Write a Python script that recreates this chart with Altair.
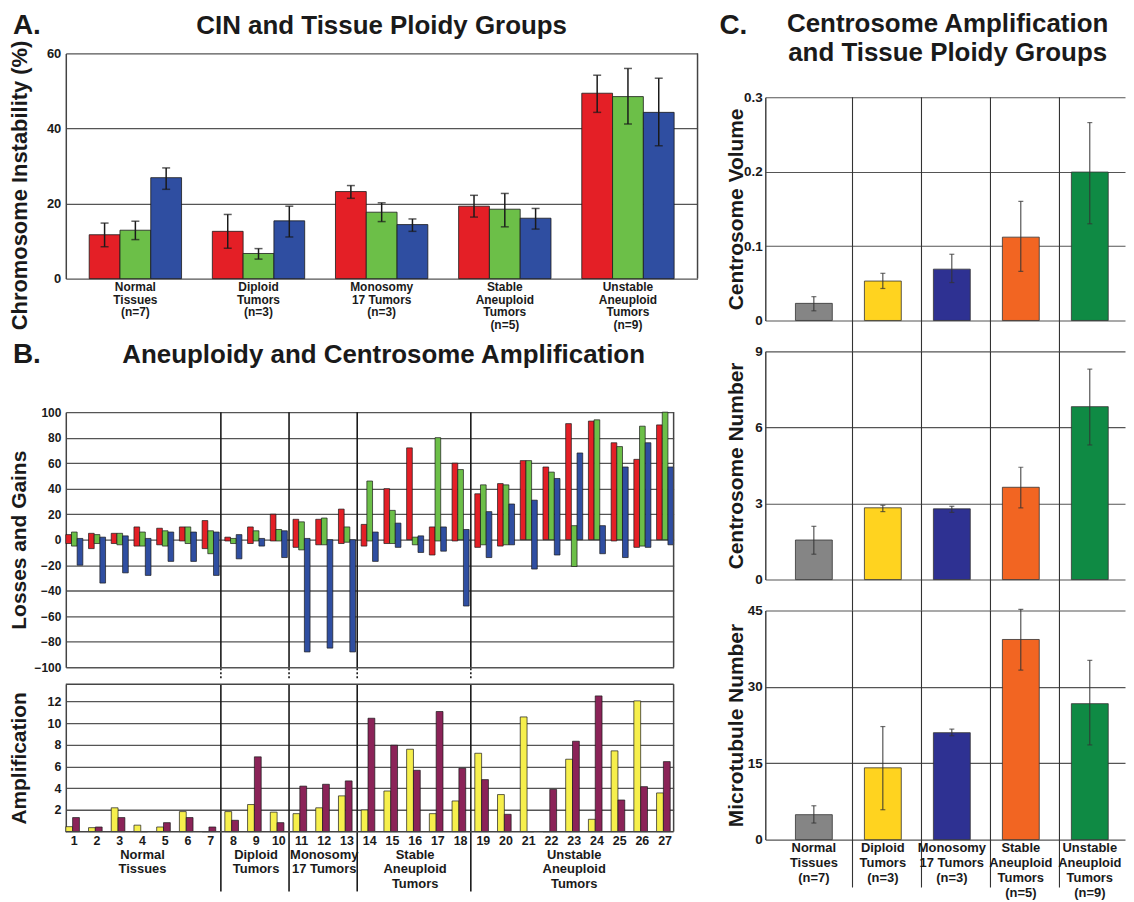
import altair as alt
import pandas as pd

FONT = "Liberation Sans"
INK = "#1a1a1a"
GRID = "#555555"
FRAME = "#444444"

# ---------------- shared categories ----------------
groups = ["Normal\nTissues\n(n=7)", "Diploid\nTumors\n(n=3)", "Monosomy\n17 Tumors\n(n=3)",
          "Stable\nAneuploid\nTumors\n(n=5)", "Unstable\nAneuploid\nTumors\n(n=9)"]
group_short = ["Normal\nTissues", "Diploid\nTumors", "Monosomy\n17 Tumors",
               "Stable\nAneuploid\nTumors", "Unstable\nAneuploid\nTumors"]
group_sizes = [7, 3, 3, 5, 9]

# ---------------- Panel A: CIN ----------------
cin_series = ["Series 1", "Series 2", "Series 3"]
cin_colors = ["#e41f26", "#6cbf48", "#2f4ea1"]
cin_1 = [11.7, 12.6, 23.2, 19.3, 49.4]
cin_1_lo = [8.5, 8.1, 21.4, 16.4, 44.3]
cin_1_hi = [14.8, 17.1, 24.8, 22.2, 54.2]
cin_2 = [12.9, 6.7, 17.7, 18.5, 48.5]
cin_2_lo = [10.4, 5.2, 15.2, 13.8, 41.2]
cin_2_hi = [15.3, 8.0, 20.2, 22.7, 56.0]
cin_3 = [26.9, 15.4, 14.4, 16.1, 44.3]
cin_3_lo = [23.8, 11.1, 12.6, 13.2, 35.4]
cin_3_hi = [29.5, 19.3, 15.9, 18.7, 53.4]

# ---------------- Panel B: losses / gains ----------------
samples = list(range(1, 28))
gain_1 = [4, 5, 5, 10, 9, 10, 15, 2, 10, 20, 16, 16, 24, 12, 40, 72, 10, 60, 36, 44, 62, 57, 91, 93, 76, 63, 90]
loss_1 = [-3, -7, -3, -5, -4, -1, -7, -1, -3, -1, -6, -4, -3, -5, -3, 0, -12, -1, -6, -5, 0, 0, 0, 0, -1, -6, 0]
gain_2 = [6, 4, 5, 6, 7, 10, 7, 1, 7, 8, 14, 17, 10, 46, 23, 2, 80, 55, 43, 43, 62, 53, 11, 94, 73, 89, 100]
loss_2 = [-5, -3, -4, -5, -5, -3, -11, -3, -1, -1, -8, -4, -2, -1, -3, -4, -1, 0, -4, -4, 0, 0, -21, 0, 0, -5, 0]
gain_3 = [1, 2, 3, 1, 6, 6, 6, 4, 1, 7, 1, 0, 0, 6, 13, 3, 10, 8, 22, 28, 31, 48, 68, 11, 57, 76, 57]
loss_3 = [-20, -34, -26, -28, -17, -17, -28, -15, -5, -14, -88, -85, -88, -17, -6, -10, -9, -52, -14, -4, -23, -12, 0, -11, -14, -6, -4]

# ---------------- Panel B: amplification ----------------
amp_series = ["Amplification 1", "Amplification 2"]
amp_colors = ["#f6ef4c", "#8b2358"]
amp_1 = [0.46, 0.37, 2.2, 0.6, 0.43, 1.85, 0, 1.85, 2.5, 1.8, 1.66, 2.2, 3.3, 2.0, 3.75, 7.6, 1.66,
         2.83, 7.23, 3.42, 10.58, 0, 6.68, 1.14, 7.45, 12.06, 3.57]
amp_2 = [1.3, 0.43, 1.3, 0, 0.83, 1.3, 0.43, 1.05, 6.9, 0.83, 4.2, 4.37, 4.68, 10.46, 7.97, 5.66,
         11.08, 5.85, 4.8, 1.6, 0, 3.9, 8.34, 12.52, 2.92, 4.15, 6.46]

# ---------------- Panel C ----------------
c_colors = ["#858585", "#ffd31f", "#2e3192", "#f26522", "#0f8a44"]
vol = [0.023, 0.053, 0.069, 0.112, 0.1995]
vol_lo = [0.013, 0.043, 0.051, 0.066, 0.130]
vol_hi = [0.032, 0.0634, 0.089, 0.160, 0.266]
num = [1.56, 2.83, 2.79, 3.64, 6.82]
num_lo = [1.0, 2.68, 2.65, 2.83, 5.31]
num_hi = [2.1, 2.93, 2.89, 4.43, 8.3]
mt = [4.9, 14.1, 21.0, 39.3, 26.7]
mt_lo = [3.26, 5.87, 20.4, 33.3, 18.6]
mt_hi = [6.65, 22.2, 21.7, 45.2, 35.2]

title_A = "CIN and Tissue Ploidy Groups"
title_B = "Aneuploidy and Centrosome Amplification"
title_C = "Centrosome Amplification\nand Tissue Ploidy Groups"

ONE = pd.DataFrame({"k": [0]})
TITLE_SIZE = 26


def text_at(txt, dx, dy, size=TITLE_SIZE, baseline="middle", line_height=30):
    return alt.Chart(pd.DataFrame({"t": [txt]})).mark_text(
        fontSize=size, fontWeight="bold", font=FONT, color=INK, align="center", baseline=baseline,
        lineBreak="\n", lineHeight=line_height
    ).encode(text="t:N", x=alt.value(dx), y=alt.value(dy))


def letter(txt, dx, dy):
    return text_at(txt, dx, dy, size=28)


def vline(xpx, y0, y1, color=FRAME, width=1.5):
    return alt.Chart(ONE).mark_rule(color=color, strokeWidth=width).encode(
        x=alt.value(xpx), y=alt.value(y0), y2=alt.value(y1))


def hline(ypx, x0, x1, color=FRAME, width=1.5):
    return alt.Chart(ONE).mark_rule(color=color, strokeWidth=width).encode(
        x=alt.value(x0), x2=alt.value(x1), y=alt.value(ypx))


def yaxis(values, title, fmt=None, size=12, tx=-46, ty=None, tsize=21, grid_w=1.3, pad=5):
    kw = dict(values=values, title=title, grid=True, gridColor=GRID, gridWidth=grid_w, ticks=False,
              domain=True, domainColor=FRAME, domainWidth=1.5,
              labelFontSize=size, labelFontWeight="bold", labelColor=INK, labelPadding=pad,
              titleFontSize=tsize, titleFontWeight="bold", titleColor=INK, titleX=tx, titleBaseline="middle")
    if ty is not None:
        kw["titleY"] = ty
    if fmt:
        kw["format"] = fmt
    return alt.Axis(**kw)


# ================= Panel A chart =================
rows = []
for si, (s, v, lo, hi) in enumerate(zip(cin_series, [cin_1, cin_2, cin_3], [cin_1_lo, cin_2_lo, cin_3_lo],
                                        [cin_1_hi, cin_2_hi, cin_3_hi])):
    for gi, (g, a, b, c) in enumerate(zip(groups, v, lo, hi)):
        rows.append({"gi": gi, "group": g, "si": si, "series": s, "value": a, "lo": b, "hi": c})
dfA = pd.DataFrame(rows)

A_W, A_H = 634, 226
xsA = alt.Scale(domain=[-0.565, 4.565], nice=False, zero=False)
yA = alt.Y("value:Q", scale=alt.Scale(domain=[0, 60]),
           axis=yaxis([0, 20, 40, 60], "Chromosome Instability (%)", size=13, ty=132, tsize=22))
baseA = alt.Chart(dfA).transform_calculate(
    x0="datum.gi - 0.375 + datum.si * 0.25", x1="datum.gi - 0.125 + datum.si * 0.25",
    xc="datum.gi - 0.25 + datum.si * 0.25")
barsA = baseA.mark_bar(stroke=INK, strokeWidth=0.8).encode(
    x=alt.X("x0:Q", scale=xsA, axis=None), x2="x1:Q", y=yA, y2=alt.datum(0),
    color=alt.Color("series:N", scale=alt.Scale(domain=cin_series, range=cin_colors), legend=None))
errA = baseA.mark_rule(color=INK, strokeWidth=1.5).encode(
    x=alt.X("xc:Q", scale=xsA, axis=None), y="lo:Q", y2="hi:Q")
capLoA = baseA.mark_tick(color=INK, thickness=1.5, size=8, orient="horizontal").encode(
    x=alt.X("xc:Q", scale=xsA, axis=None), y="lo:Q")
capHiA = baseA.mark_tick(color=INK, thickness=1.5, size=8, orient="horizontal").encode(
    x=alt.X("xc:Q", scale=xsA, axis=None), y="hi:Q")
labA = alt.Chart(pd.DataFrame({"gi": list(range(len(groups))), "label": groups})).mark_text(
    lineBreak="\n", baseline="top", align="center", fontSize=12, fontWeight="bold", font=FONT,
    color=INK, lineHeight=13).encode(x=alt.X("gi:Q", scale=xsA, axis=None), y=alt.value(A_H + 3),
                                     text="label:N")
chartA = alt.layer(barsA, errA, capLoA, capHiA, labA, vline(A_W, 0, A_H),
                   text_at(title_A, A_W / 2, -28), letter("A.", -39, -28)).properties(width=A_W, height=A_H)

# ================= Panel B top =================
rowsB = []
for si, (s, gains, losses) in enumerate(zip(cin_series, [gain_1, gain_2, gain_3], [loss_1, loss_2, loss_3])):
    for smp, g, l in zip(samples, gains, losses):
        rowsB.append({"sample": smp, "si": si, "series": s, "gain": g, "loss": l})
dfB = pd.DataFrame(rowsB)

sep_samples = []
acc = 0
for n in group_sizes[:-1]:
    acc += n
    sep_samples.append(acc)
centers = []
start = 1
for n in group_sizes:
    centers.append(start + (n - 1) // 2)
    start += n

B_W, BT_H, BB_H, B_GAP = 610, 256, 148, 17
xsB = alt.Scale(domain=[0.625, 27.375], nice=False, zero=False)
barsB = alt.Chart(dfB).transform_calculate(
    x0="datum.sample - 0.375 + datum.si * 0.25", x1="datum.sample - 0.125 + datum.si * 0.25"
).mark_bar(stroke=INK, strokeWidth=0.7).encode(
    x=alt.X("x0:Q", scale=xsB, axis=None), x2="x1:Q",
    y=alt.Y("loss:Q", scale=alt.Scale(domain=[-100, 100]),
            axis=yaxis(list(range(-100, 101, 20)), "Losses and Gains", size=12)),
    y2="gain:Q",
    color=alt.Color("series:N", scale=alt.Scale(domain=cin_series, range=cin_colors), legend=None))
dfSep = pd.DataFrame({"sample": sep_samples})
sepB = alt.Chart(dfSep).transform_calculate(xs="datum.sample + 0.45").mark_rule(
    color=INK, strokeWidth=1.6).encode(
    x=alt.X("xs:Q", scale=xsB, axis=None), y=alt.value(0), y2=alt.value(BT_H))
dotB = alt.Chart(dfSep).transform_calculate(xs="datum.sample + 0.45").mark_rule(
    color=INK, strokeWidth=1.6, strokeDash=[2, 2]).encode(
    x=alt.X("xs:Q", scale=xsB, axis=None), y=alt.value(BT_H + 1), y2=alt.value(BT_H + 13))
chartBT = alt.layer(barsB, sepB, dotB, vline(B_W, 0, BT_H),
                    text_at(title_B, B_W / 2 + 14, -57), letter("B.", -39, -57)).properties(
    width=B_W, height=BT_H)

# ================= Panel B bottom =================
rowsBB = []
for si, (s, vals) in enumerate(zip(amp_series, [amp_1, amp_2])):
    for smp, v in zip(samples, vals):
        rowsBB.append({"sample": smp, "si": si, "series": s, "value": v})
dfBB = pd.DataFrame(rowsBB)
barsBB = alt.Chart(dfBB).transform_calculate(
    x0="datum.sample - 0.375 + datum.si * 0.3", x1="datum.sample - 0.075 + datum.si * 0.3"
).mark_bar(stroke=INK, strokeWidth=0.7).encode(
    x=alt.X("x0:Q", scale=xsB, axis=None),
    x2="x1:Q",
    y=alt.Y("value:Q", scale=alt.Scale(domain=[0, 13.6]),
            axis=yaxis([2, 4, 6, 8, 10, 12], "Amplification", size=12.5)),
    y2=alt.datum(0),
    color=alt.Color("series:N", scale=alt.Scale(domain=amp_series, range=amp_colors), legend=None))
numBB = alt.Chart(pd.DataFrame({"sample": samples})).mark_text(
    baseline="top", align="center", fontSize=12.5, fontWeight="bold", font=FONT, color=INK).encode(
    x=alt.X("sample:Q", scale=xsB, axis=None), y=alt.value(BB_H + 3), text=alt.Text("sample:Q", format="d"))
sepBB = alt.Chart(dfSep).transform_calculate(xs="datum.sample + 0.45").mark_rule(
    color=INK, strokeWidth=1.6).encode(
    x=alt.X("xs:Q", scale=xsB, axis=None), y=alt.value(0), y2=alt.value(BB_H + 60))
dfGL = pd.DataFrame({"sample": centers, "label": group_short})
glBB = alt.Chart(dfGL).mark_text(lineBreak="\n", baseline="top", align="center", fontSize=13,
                                 fontWeight="bold", font=FONT, color=INK, lineHeight=15).encode(
    x=alt.X("sample:Q", scale=xsB, axis=None), y=alt.value(BB_H + 17), text="label:N")
chartBB = alt.layer(barsBB, sepBB, numBB, glBB, vline(B_W, 0, BB_H), hline(0, 0, B_W),
                    hline(BB_H, 0, B_W)).properties(width=B_W, height=BB_H)

panelB = alt.vconcat(chartBT, chartBB, spacing=B_GAP, bounds="flush").resolve_scale(color="independent")
left = alt.vconcat(chartA, panelB, spacing=8).resolve_scale(color="independent")

# ================= Panel C =================
C_W, C_GAP = 361, 31
xsC = alt.Scale(domain=[-0.632, 4.438], nice=False, zero=False)


def c_panel(vals, lo, hi, domain, ticks, fmt, title, height, bot_ext, show_x):
    df = pd.DataFrame({"gi": list(range(len(groups))), "group": groups, "value": vals, "lo": lo, "hi": hi})
    x = alt.X("gi:Q", scale=xsC, axis=None)
    yax = yaxis(ticks, title, fmt=fmt, size=13.5, tx=-29, grid_w=1.1, pad=3)
    base = alt.Chart(df)
    bars = base.mark_bar(size=37, stroke="#333333", strokeWidth=0.8).encode(
        x=x, y=alt.Y("value:Q", scale=alt.Scale(domain=domain), axis=yax), y2=alt.datum(0),
        color=alt.Color("group:N", scale=alt.Scale(domain=groups, range=c_colors), legend=None))
    err = base.mark_rule(color="#333333", strokeWidth=1).encode(x=x, y="lo:Q", y2="hi:Q")
    cl = base.mark_tick(color="#333333", thickness=1.2, size=5, orient="horizontal").encode(x=x, y="lo:Q")
    ch = base.mark_tick(color="#333333", thickness=1.2, size=5, orient="horizontal").encode(x=x, y="hi:Q")
    seps = alt.Chart(pd.DataFrame({"gi": list(range(1, len(groups)))})).transform_calculate(
        xs="datum.gi - 0.44").mark_rule(color="#333333", strokeWidth=1.1).encode(
        x=alt.X("xs:Q", scale=xsC, axis=None), y=alt.value(0), y2=alt.value(height + bot_ext))
    layers = [seps, bars, err, cl, ch]
    if show_x:
        layers.append(base.mark_text(lineBreak="\n", baseline="top", align="center", fontSize=13,
                                     fontWeight="bold", font=FONT, color=INK, lineHeight=15.2).encode(
            x=x, y=alt.value(height + 2), text="group:N"))
    return alt.layer(*layers).properties(width=C_W, height=height)


headC = alt.layer(
    text_at(title_C, 183, -43, baseline="top"),
    letter("C.", -32, -28)
).properties(width=C_W, height=35.5)

c1 = c_panel(vol, vol_lo, vol_hi, [0, 0.3], [0, 0.1, 0.2, 0.3], ".1~f", "Centrosome Volume", 224, C_GAP, False)
c2 = c_panel(num, num_lo, num_hi, [0, 9], [0, 3, 6, 9], None, "Centrosome Number", 229, C_GAP, False)
c3 = c_panel(mt, mt_lo, mt_hi, [0, 45], [0, 15, 30, 45], None, "Microtubule Number", 230, 48, True)

cstack = alt.vconcat(c1, c2, c3, spacing=C_GAP, bounds="flush").resolve_scale(color="independent")
right = alt.vconcat(headC, cstack, spacing=0).resolve_scale(color="independent")

chart = alt.hconcat(left, right, spacing=19).resolve_scale(color="independent").properties(
    padding={"left": 0, "top": 0, "right": 0, "bottom": 0}
).configure(font=FONT).configure_view(stroke="transparent").configure_axis(labelFont=FONT, titleFont=FONT)

chart.save("out.html", embed_options={"renderer": "svg", "actions": False})
